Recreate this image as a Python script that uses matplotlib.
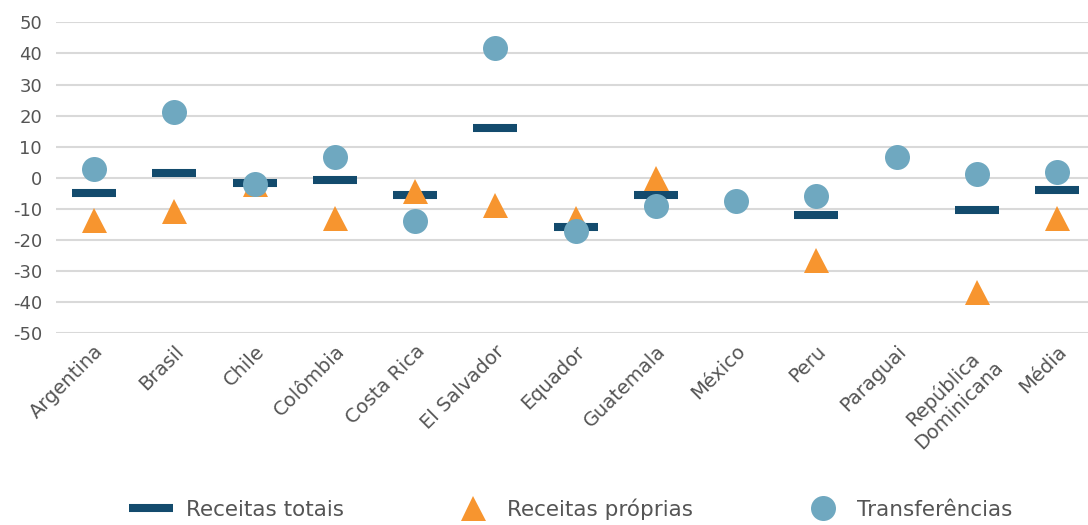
import matplotlib.pyplot as plt
import numpy as np

plt.rcParams['font.family'] = ['DejaVu Sans']
plt.rcParams['axes.unicode_minus'] = False

paises = ['Argentina', 'Brasil', 'Chile', 'Colômbia', 'Costa Rica', 'El Salvador',
          'Equador', 'Guatemala', 'México', 'Peru', 'Paraguai',
          'República\nDominicana', 'Média']
receitas_totais = [-5, 1.5, -1.7, -0.8, -5.6, 16, -15.9, -5.6, np.nan, -12.1, np.nan, -10.4, -3.9]
receitas_proprias = [-13.7, -10.6, -1.9, -13, -4.1, -8.9, -12.9, -0.1, np.nan, -26.4, np.nan, -36.7, -12.9]
transferencias = [2.7, 21, -2, 6.7, -14, 41.7, -17.2, -9.2, -7.6, -5.9, 6.7, 1.1, 2]

fig = plt.figure(figsize=(10.88, 5.25), dpi=100)
ax = fig.add_axes([56 / 1088, 1 - 333.3 / 525, 1032 / 1088, (333.3 - 22.3) / 525])

x = np.arange(len(paises))
ax.plot(x, receitas_totais, linestyle='none', marker='_', markersize=31,
        markeredgewidth=5.8, color='#134b6d', label='Receitas totais', zorder=3)
ax.plot(x, receitas_proprias, linestyle='none', marker='^', markersize=18,
        color='#f7952f', markeredgewidth=0, label='Receitas próprias', zorder=4)
ax.plot(x, transferencias, linestyle='none', marker='o', markersize=18,
        color='#6fa8c0', markeredgewidth=0, label='Transferências', zorder=5)

ax.set_ylim(-50, 50)
ax.set_yticks(np.arange(-50, 51, 10))
ax.set_xlim(-38 / 80.25, 12 + 31 / 80.25)
ax.set_xticks(x)
ax.set_xticklabels(paises, rotation=45, ha='right', rotation_mode='anchor',
                   multialignment='center')
ax.tick_params(axis='both', length=0, labelsize=13, labelcolor='#555555')
ax.tick_params(axis='x', pad=6, labelsize=14)
ax.tick_params(axis='y', pad=10)
ax.grid(axis='y', color='#d9d9d9', linewidth=1.5)
ax.set_axisbelow(True)
for s in ax.spines.values():
    s.set_visible(False)

fig.legend(loc='center', bbox_to_anchor=(0.525, 0.03), ncol=3, frameon=False,
           fontsize=15.5, labelcolor='#555555', columnspacing=5.0, handletextpad=0.6,
           handlelength=2)

fig.savefig('out.png', dpi=100)
